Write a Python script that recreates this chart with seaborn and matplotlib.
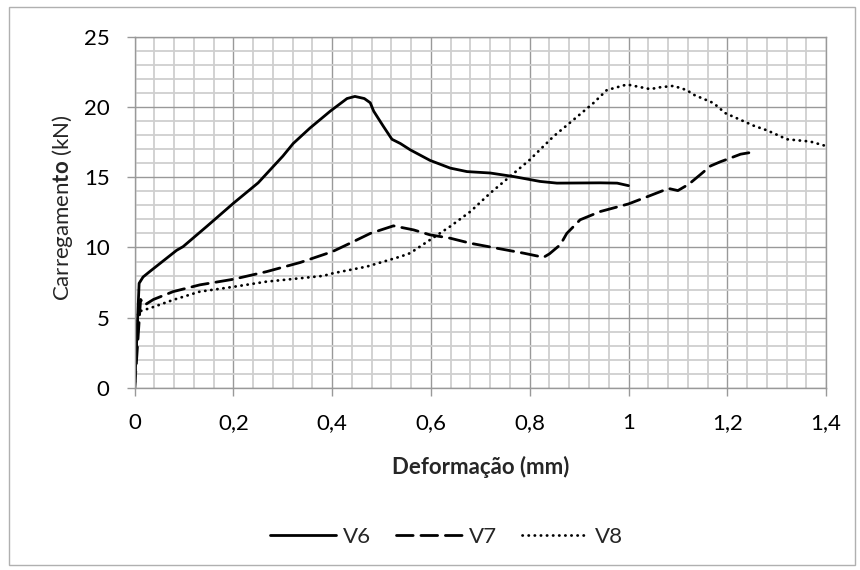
import numpy as np
import pandas as pd
import matplotlib
matplotlib.use("Agg")
import matplotlib.pyplot as plt
from matplotlib.ticker import MultipleLocator
from matplotlib.patches import Rectangle
import seaborn as sns

# Load-deformation curves
v6_x = [0, 0.009, 0.017, 0.031, 0.085, 0.098, 0.146, 0.2, 0.25, 0.3, 0.321, 0.355,
        0.396, 0.43, 0.446, 0.465, 0.477, 0.484, 0.504, 0.521, 0.538, 0.558, 0.598,
        0.639, 0.673, 0.72, 0.767, 0.821, 0.855, 0.943, 0.977, 1.0]
v6_y = [0, 7.45, 7.9, 8.3, 9.8, 10.06, 11.5, 13.15, 14.6, 16.5, 17.4, 18.5,
        19.7, 20.6, 20.75, 20.6, 20.3, 19.7, 18.6, 17.7, 17.4, 16.95, 16.2,
        15.65, 15.4, 15.3, 15.05, 14.7, 14.58, 14.6, 14.58, 14.4]

v7_x = [0, 0.012, 0.02, 0.038, 0.078, 0.132, 0.2, 0.267, 0.335, 0.4, 0.436, 0.477,
        0.524, 0.565, 0.598, 0.639, 0.68, 0.733, 0.787, 0.828, 0.84, 0.862, 0.875,
        0.902, 0.943, 1.0, 1.037, 1.081, 1.10, 1.122, 1.146, 1.166, 1.186, 1.206,
        1.227, 1.247]
v7_y = [0, 6.3, 5.9, 6.3, 6.86, 7.34, 7.74, 8.28, 8.93, 9.7, 10.3, 11.0,
        11.54, 11.25, 10.9, 10.66, 10.3, 9.95, 9.6, 9.3, 9.55, 10.2, 11.0,
        11.97, 12.56, 13.1, 13.6, 14.2, 14.05, 14.5, 15.2, 15.8, 16.1, 16.36,
        16.64, 16.76]

v8_x = [0, 0.007, 0.031, 0.078, 0.132, 0.2, 0.267, 0.335, 0.382, 0.402, 0.47, 0.538,
        0.558, 0.598, 0.639, 0.68, 0.72, 0.76, 0.8, 0.848, 0.889, 0.929, 0.956,
        0.997, 1.044, 1.064, 1.091, 1.118, 1.132, 1.172, 1.196, 1.254, 1.281,
        1.321, 1.368, 1.402]
v8_y = [0, 5.43, 5.68, 6.27, 6.86, 7.2, 7.57, 7.81, 7.98, 8.17, 8.64, 9.35,
        9.6, 10.54, 11.5, 12.56, 13.87, 15.05, 16.24, 17.9, 19.1, 20.28, 21.2,
        21.6, 21.27, 21.4, 21.5, 21.2, 20.87, 20.28, 19.56, 18.66, 18.33,
        17.7, 17.54, 17.2]

x_ticks = [0, 0.2, 0.4, 0.6, 0.8, 1.0, 1.2, 1.4]
x_tick_labels = ["0", "0,2", "0,4", "0,6", "0,8", "1", "1,2", "1,4"]
y_ticks = [0, 5, 10, 15, 20, 25]

sns.set_style("white")
plt.rcParams["font.family"] = ["Lato", "DejaVu Sans"]
plt.rcParams["mathtext.fontset"] = "custom"
plt.rcParams["mathtext.rm"] = "Lato"
plt.rcParams["mathtext.bf"] = "Lato:bold"

fig = plt.figure(figsize=(8.6, 5.7), dpi=100)
ax = fig.add_axes([0.1566, 0.3193, 0.8039, 0.6163])

series = [("V6", v6_x, v6_y, "-"),
          ("V7", v7_x, v7_y, (0, (6, 2.8))),
          ("V8", v8_x, v8_y, (0, (0.1, 2.1)))]
for name, xs, ys, ls in series:
    df = pd.DataFrame({"x": xs, "y": ys})
    sns.lineplot(data=df, x="x", y="y", sort=False, estimator=None, ax=ax,
                 color="black", linewidth=2.0, linestyle=ls, label=name)

for line in ax.get_lines():
    line.set_dash_capstyle("round")

ax.set_xlim(0, 1.4)
ax.set_ylim(0, 25)
ax.set_xticks(x_ticks)
ax.set_xticklabels(x_tick_labels)
ax.set_yticks(y_ticks)
ax.xaxis.set_minor_locator(MultipleLocator(0.04))
ax.yaxis.set_minor_locator(MultipleLocator(1))

ax.set_axisbelow(True)
ax.grid(which="minor", color="#cfcfcf", linewidth=1.3)
ax.grid(which="major", color="#999999", linewidth=1.0)
for side in ["top", "right", "left", "bottom"]:
    ax.spines[side].set_color("#999999")
    ax.spines[side].set_linewidth(1.0)

ax.tick_params(which="major", length=6, width=1, color="#999999", pad=12,
               labelsize=16, labelcolor="black", direction="out",
               bottom=True, left=True)
ax.tick_params(which="minor", length=0)

ax.set_xlabel("Deformação (mm)", fontsize=16, fontweight="bold")
ax.xaxis.label.set_va("center")
ax.xaxis.set_label_coords(0.5, -0.225)
ax.set_ylabel(r"Carregamen$\mathbf{to}$ (kN)", fontsize=16)
ax.yaxis.label.set_va("center")
ax.yaxis.set_label_coords(-0.105, 0.515)

handles, labels = ax.get_legend_handles_labels()
ax.get_legend().remove()
leg = fig.legend(handles, labels, loc="center", bbox_to_anchor=(0.519, 0.058),
                 ncol=3, frameon=False, fontsize=16, handlelength=3.0,
                 handletextpad=0.3, columnspacing=1.1)
for h in leg.legend_handles:
    h.set_dash_capstyle("round")

fig.patches.append(Rectangle((9 / 860, 1 - 565 / 570), 846 / 860, 558 / 570,
                             transform=fig.transFigure, fill=False,
                             edgecolor="#b0b0b0", linewidth=1.0))

fig.savefig("out.png", dpi=100)
